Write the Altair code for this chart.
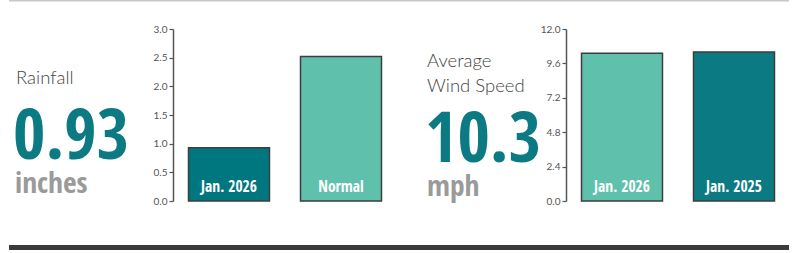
import altair as alt
import pandas as pd

rain_categories = ["Jan. 2026", "Normal"]
rain_values = [0.93, 2.52]
rain_colors = ["#00767E", "#5FC0AC"]
rain_ticks = [0.0, 0.5, 1.0, 1.5, 2.0, 2.5, 3.0]

wind_categories = ["Jan. 2026", "Jan. 2025"]
wind_values = [10.3, 10.4]
wind_colors = ["#5FC0AC", "#0C7A82"]
wind_ticks = [0.0, 2.4, 4.8, 7.2, 9.6, 12.0]

rain_df = pd.DataFrame({"cat": rain_categories, "val": rain_values, "color": rain_colors})
wind_df = pd.DataFrame({"cat": wind_categories, "val": wind_values, "color": wind_colors})

W, H = 799, 253
NARROW = "Open Sans Condensed"
LIGHT = "Lato"

def xscale(xrange):
    return alt.Scale(range=xrange, paddingInner=0.277, paddingOuter=0.1385)

def bar_layer(df, xrange, domain_max, ticks, fmt):
    x = alt.X("cat:N", sort=None, title=None, scale=xscale(xrange),
              axis=alt.Axis(orient="top", offset=-201, labels=False, ticks=True, tickSize=4,
                            bandPosition=1, domainColor="#555555", tickColor="#555555",
                            domainWidth=1.5, tickWidth=1.5, grid=False))
    y = alt.Y("val:Q", title=None,
              scale=alt.Scale(domain=[0, domain_max], range=[201, 29], nice=False, zero=True),
              axis=alt.Axis(orient="left", offset=-xrange[0], values=ticks, format=fmt,
                            tickSize=4, labelPadding=2, labelFontSize=10, labelColor="#555555",
                            labelFont="Lato", domainColor="#555555", tickColor="#555555",
                            domainWidth=1.5, tickWidth=1.2, grid=False))
    bars = alt.Chart(df).mark_bar(stroke="#3d3d3d", strokeWidth=1.5).encode(
        x=x, y=y, color=alt.Color("color:N", scale=None))
    labels = alt.Chart(df).mark_text(color="white", font=NARROW, fontWeight="bold",
                                     fontSize=15.5, baseline="alphabetic").encode(
        x=alt.X("cat:N", sort=None, scale=xscale(xrange), axis=None),
        y=alt.value(192), text="cat:N")
    return alt.layer(bars, labels)

def txt(s, x, y, size, color, font, weight):
    return alt.Chart(pd.DataFrame({"t": [s]})).mark_text(
        align="left", baseline="alphabetic", fontSize=size, color=color, font=font,
        fontWeight=weight).encode(x=alt.value(x), y=alt.value(y), text="t:N")

top_line = alt.Chart(pd.DataFrame({"a": [0]})).mark_rule(color="#c8c8c8", strokeWidth=2).encode(
    x=alt.value(9), x2=alt.value(789), y=alt.value(0.5))
bottom_line = alt.Chart(pd.DataFrame({"a": [0]})).mark_rule(color="#3a3a3a", strokeWidth=5).encode(
    x=alt.value(9), x2=alt.value(789), y=alt.value(247.5))

texts = [
    txt("Rainfall", 16, 84, 18.5, "#444444", LIGHT, 300),
    txt("0.93", 13, 159, 70, "#0C7A82", NARROW, "bold"),
    txt("inches", 15, 193, 29.5, "#9a9a9a", NARROW, "bold"),
    txt("Average", 427, 67, 18.5, "#444444", LIGHT, 300),
    txt("Wind Speed", 427, 92, 18.5, "#444444", LIGHT, 300),
    txt("10.3", 425, 162, 70, "#0C7A82", NARROW, "bold"),
    txt("mph", 427, 196, 29.5, "#9a9a9a", NARROW, "bold"),
]

left = bar_layer(rain_df, [173, 397], 3.0, rain_ticks, ".1f")
right = bar_layer(wind_df, [566, 790], 12.0, wind_ticks, ".1f")

chart = alt.layer(top_line, bottom_line, *texts, left, right).resolve_scale(
    x="independent", y="independent"
).resolve_axis(x="independent", y="independent").properties(
    width=W, height=H, autosize=alt.AutoSizeParams(type="none"), padding=0,
    background="white"
).configure_view(stroke=None)

chart.save("out.html", embed_options={"renderer": "svg", "actions": False})
